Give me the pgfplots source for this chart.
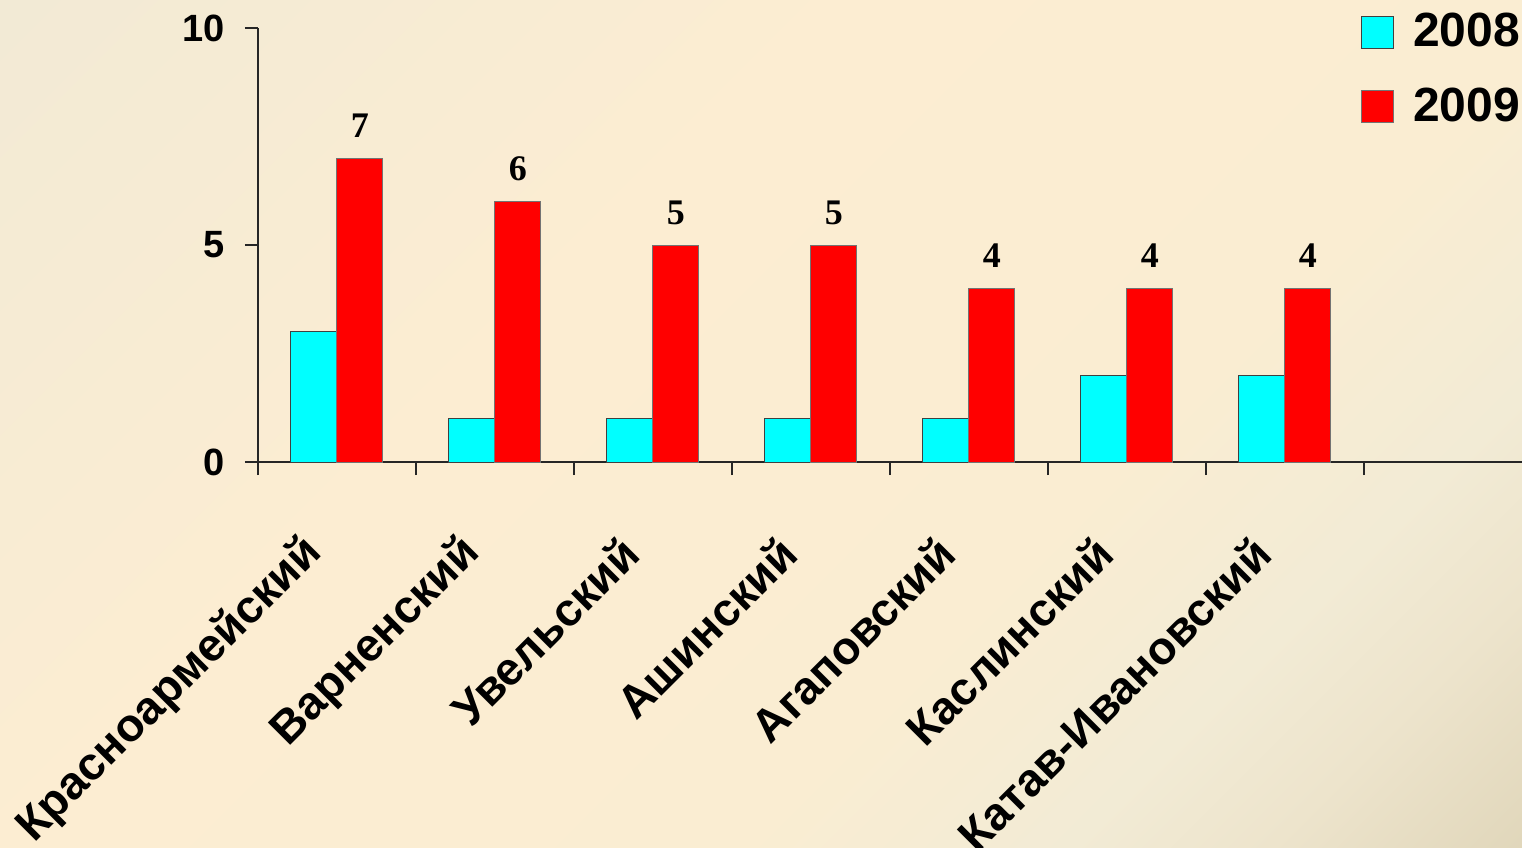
\documentclass[border=0pt]{standalone}
\usepackage{fontspec}
\setmainfont{Liberation Sans}
\newfontfamily\serifnum{Liberation Serif}
\usepackage{pgfplots}
\pgfplotsset{compat=1.18}
\definecolor{bgA}{HTML}{F1E9D4}
\definecolor{bgA2}{HTML}{F2EAD5}
\definecolor{bgB}{HTML}{FCEDD2}
\definecolor{bgB2}{HTML}{FAEDD2}
\definecolor{bgD}{HTML}{F2EBD5}
\definecolor{bgE}{HTML}{EDE4CC}
\definecolor{bgC}{HTML}{E0D6BA}
\definecolor{barC}{HTML}{00FFFF}
\definecolor{barR}{HTML}{FF0000}
\pgfdeclarehorizontalshading{bgshade}{100bp}{color(0bp)=(bgA); color(15bp)=(bgA2); color(40bp)=(bgB); color(62bp)=(bgB2); color(72bp)=(bgD); color(78bp)=(bgE); color(86bp)=(bgC); color(100bp)=(bgC)}
\begin{document}
\begin{tikzpicture}[x=1pt,y=1pt]
\useasboundingbox (-129,-192.5) rectangle (632,231);
\shade[shading=bgshade, shading angle=-45] (-129,-192.5) rectangle (632,231);
\begin{axis}[
  at={(0,0)}, anchor=south west,
  scale only axis, width=632pt, height=217pt,
  xmin=-0.5, xmax=7.5, ymin=0, ymax=10,
  axis lines*=left,
  axis line style={draw=black!85, line width=0.6pt},
  tick align=outside,
  major tick length=6.5pt, minor tick length=6.5pt,
  tick style={draw=black!85, line width=0.6pt},
  ytick={0,5,10},
  xtick={0,...,6},
  major x tick style={draw=none},
  minor xtick={-0.5,0.5,1.5,2.5,3.5,4.5,5.5,6.5},
  xticklabels={Красноармейский,Варненский,Увельский,Ашинский,Агаповский,Каслинский,Катав-Ивановский},
  xticklabel style={font=\bfseries\fontsize{23}{23}\selectfont, rotate=45, anchor=east, inner sep=0pt, xshift=-32.5pt, yshift=-17pt},
  yticklabel style={font=\bfseries\fontsize{19}{19}\selectfont, inner sep=0pt, xshift=-10pt},
  /pgf/number format/assume math mode=true,
  legend image code/.code={\draw[#1,/tikz/.cd] (0pt,-8.5pt) rectangle (16pt,7.5pt);},
  legend style={draw=none, fill=none, at={(rel axis cs:1,1)}, anchor=north east,
    xshift=-1pt, yshift=7.5pt, inner sep=0pt, outer sep=0pt,
    font=\bfseries\fontsize{24}{24}\selectfont,
    nodes={inner sep=0pt}, row sep=19pt,
    /tikz/every odd column/.append style={column sep=9.5pt}},
  legend cell align=left,
  clip=false,
]
\addplot[ybar, bar width=23pt, bar shift=-11.5pt, fill=barC, draw=black!75, line width=0.5pt]
  coordinates {(0,3) (1,1) (2,1) (3,1) (4,1) (5,2) (6,2)};
\addlegendentry{2008}
\addplot[ybar, bar width=23pt, bar shift=11.5pt, fill=barR, draw=black!55, line width=0.5pt,
  nodes near coords,
  nodes near coords style={font=\serifnum\bfseries\fontsize{18}{18}\selectfont, anchor=south, inner sep=0pt, xshift=11.5pt, yshift=10pt, text=black}]
  coordinates {(0,7) (1,6) (2,5) (3,5) (4,4) (5,4) (6,4)};
\addlegendentry{2009}
\end{axis}
\end{tikzpicture}
\end{document}
